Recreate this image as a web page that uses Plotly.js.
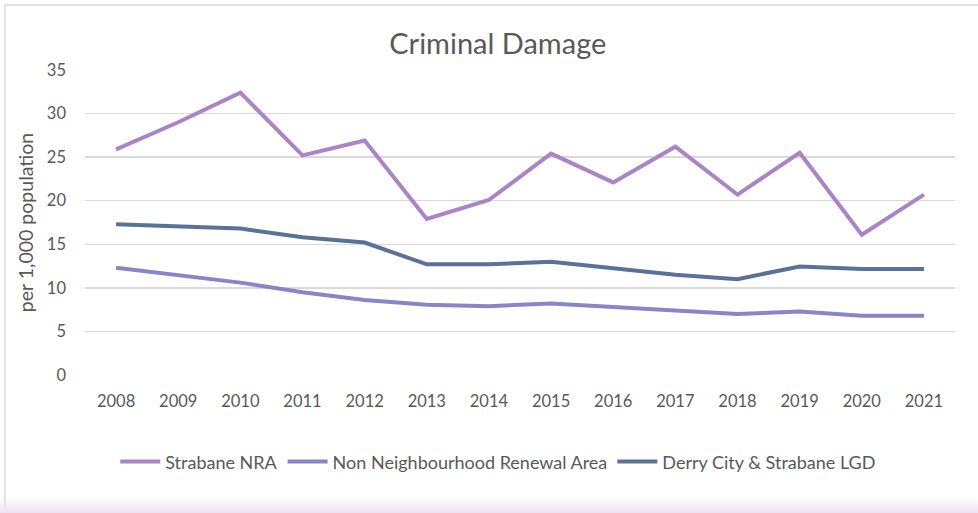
<!DOCTYPE html>
<html>
<head>
<meta charset="utf-8">
<script src="https://cdn.plot.ly/plotly-3.0.1.min.js"></script>
<style>
html,body{margin:0;padding:0;background:#fff;}
#wrap{position:relative;width:978px;height:513px;overflow:hidden;background:#fff;}
#frame{position:absolute;left:4px;top:4px;width:980px;height:520px;border-top:2px solid #e3e3e3;border-left:2px solid #e3e3e3;}
#grad{position:absolute;left:0;top:497px;width:978px;height:16px;background:linear-gradient(to bottom, rgba(236,228,244,0) 0%, #ece3f4 100%);}
#chart{position:absolute;left:0;top:0;width:978px;height:513px;}
</style>
</head>
<body>
<div id="wrap">
<div id="frame"></div>
<div id="grad"></div>
<div id="chart"></div>
</div>
<script>
const years = ['2008','2009','2010','2011','2012','2013','2014','2015','2016','2017','2018','2019','2020','2021'];
const strabaneNRA = [25.9, 29.0, 32.4, 25.2, 26.9, 17.9, 20.1, 25.4, 22.1, 26.2, 20.7, 25.5, 16.1, 20.7];
const nonNRA = [12.3, 11.4, 10.6, 9.5, 8.6, 8.05, 7.9, 8.2, 7.8, 7.3, 7.0, 7.3, 6.8, 6.8];
const derryLGD = [17.3, 17.0, 16.8, 15.8, 15.2, 12.7, 12.7, 13.0, 12.3, 11.5, 11.0, 12.45, 12.15, 12.15];
const seriesNames = ['Strabane NRA', 'Non Neighbourhood Renewal Area', 'Derry City & Strabane LGD'];
const seriesColors = ['#aa84c6', '#8886c8', '#5a7199'];

const font = 'Lato, "Open Sans", sans-serif';
const values = [strabaneNRA, nonNRA, derryLGD];
const traces = values.map((v, i) => ({
  type: 'scatter', mode: 'lines', x: years, y: v, name: seriesNames[i],
  line: {color: seriesColors[i], width: 4, shape: 'linear'},
  hoverinfo: 'x+y+name'
}));

const layout = {
  width: 978, height: 513,
  margin: {l: 85, r: 23, t: 70, b: 138},
  paper_bgcolor: 'rgba(0,0,0,0)', plot_bgcolor: 'rgba(0,0,0,0)',
  font: {family: font, color: '#595959', size: 16},
  title: {text: 'Criminal Damage', x: 0.509, xanchor: 'center', y: 0.915, yanchor: 'middle', font: {family: font, size: 29, color: '#595959'}},
  xaxis: {type: 'category', range: [-0.5, 13.5], showgrid: false, zeroline: false, showline: false, ticks: '', ticklabelstandoff: 14, tickfont: {size: 16.5, color: '#595959'}},
  yaxis: {range: [0, 35], dtick: 5, tick0: 0, showgrid: true, gridcolor: '#d9d9d9', gridwidth: 1.5, zeroline: false, showline: false, ticks: '', ticklabelstandoff: 18,
    tickfont: {size: 16.5, color: '#595959'},
    title: {text: 'per 1,000 population', font: {size: 19.5, color: '#595959'}, standoff: 8}},
  showlegend: true,
  legend: {orientation: 'h', x: 0.475, xanchor: 'center', y: -0.285, yanchor: 'middle', font: {size: 18, color: '#595959'}, itemwidth: 40, tracegroupgap: 0, bgcolor: 'rgba(0,0,0,0)'}
};

Plotly.newPlot('chart', traces, layout, {displayModeBar: false, staticPlot: true});
</script>
</body>
</html>
